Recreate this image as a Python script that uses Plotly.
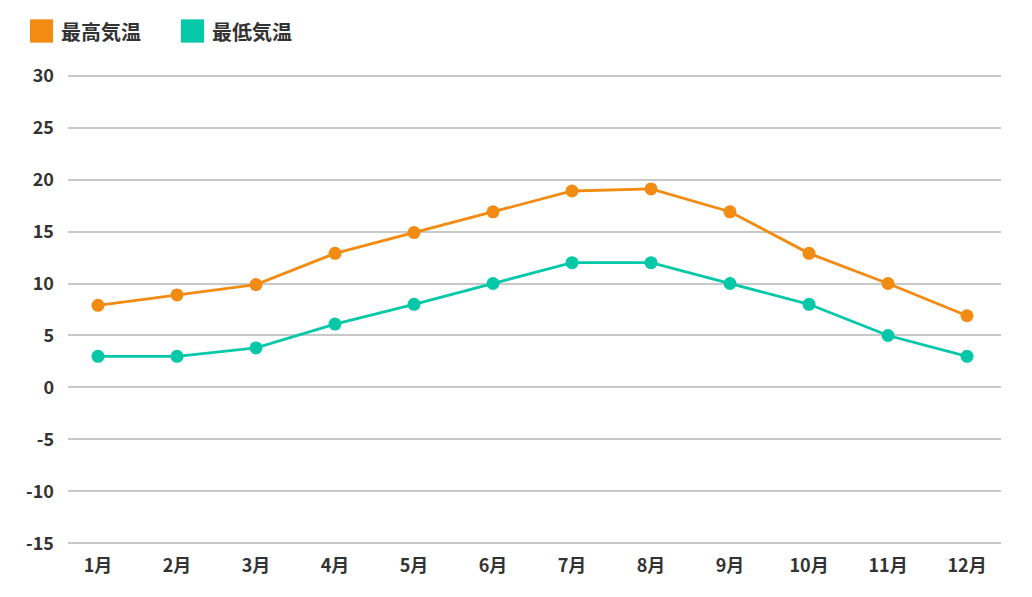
import plotly.graph_objects as go

months = ["1月", "2月", "3月", "4月", "5月", "6月", "7月", "8月", "9月", "10月", "11月", "12月"]
high_temp = [7.9, 8.9, 9.9, 12.9, 14.9, 16.9, 18.9, 19.1, 16.9, 12.9, 10.0, 6.9]
low_temp = [3.0, 3.0, 3.8, 6.1, 8.0, 10.0, 12.0, 12.0, 10.0, 8.0, 5.0, 3.0]
y_ticks = [-15, -10, -5, 0, 5, 10, 15, 20, 25, 30]
y_labels = [str(v) for v in y_ticks]  # plain hyphen minus like the original

ORANGE = "#F28B12"
TEAL = "#05C8A8"
FONT = "Noto Sans CJK JP"
TEXT = "#333333"

fig = go.Figure()

for name, vals, color in [("最高気温", high_temp, ORANGE), ("最低気温", low_temp, TEAL)]:
    fig.add_trace(go.Scatter(
        x=months, y=vals, mode="lines+markers", name=name,
        line=dict(color=color, width=2.8),
        marker=dict(color=color, size=13),
    ))

# legend drawn by hand: big square swatches at the top left
legend_items = [("最高気温", ORANGE, -0.0407), ("最低気温", TEAL, 0.1211)]
for name, color, x0 in legend_items:
    fig.add_shape(type="rect", xref="paper", yref="paper",
                  x0=x0, x1=x0 + 0.0247, y0=1.0642, y1=1.1134,
                  fillcolor=color, line=dict(width=0))
    fig.add_annotation(xref="paper", yref="paper", x=x0 + 0.0313, y=1.0885,
                       text=name, showarrow=False, xanchor="left", yanchor="middle",
                       font=dict(family=FONT, size=20, color=TEXT, weight="bold"))

# page body adds an 8px offset, so the figure is sized to the visible area
fig.update_layout(
    width=1024, height=589,
    margin=dict(l=60, r=31, t=65, b=51, autoexpand=False),
    plot_bgcolor="white", paper_bgcolor="white",
    font=dict(family=FONT, size=18, color=TEXT),
    showlegend=False,
    xaxis=dict(
        type="category", range=[-0.38, 11.43],
        showgrid=False, zeroline=False, showline=False,
        tickfont=dict(family=FONT, size=18, color=TEXT, weight="bold"),
        ticks="", ticklabelstandoff=7, automargin=False,
    ),
    yaxis=dict(
        range=[-15.25, 30.25], tickvals=y_ticks, ticktext=y_labels,
        showgrid=True, gridcolor="#C8C8C8", gridwidth=2,
        zeroline=False, showline=False, ticks="",
        tickfont=dict(family=FONT, size=18, color=TEXT, weight="bold"),
        ticklabelstandoff=13, automargin=False,
    ),
)

fig.write_html("out.html")
